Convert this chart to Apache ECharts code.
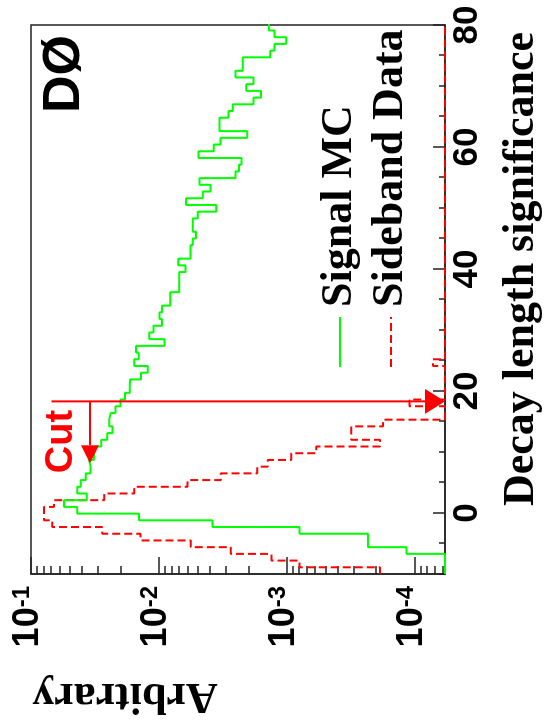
<!DOCTYPE html>
<html>
<head>
<meta charset="utf-8">
<script src="https://cdn.jsdelivr.net/npm/echarts@6/dist/echarts.min.js"></script>
<style>
  html, body { margin: 0; padding: 0; background: #fff; overflow: hidden; }
  #page { position: absolute; left: 0; top: 0; width: 547px; height: 723px; overflow: hidden; background: #fff; }
  /* the plot is laid out landscape and turned a quarter turn counter-clockwise */
  #chart { position: absolute; left: 0; top: 0; width: 723px; height: 547px;
           transform-origin: 0 0; transform: translate(0px, 723px) rotate(-90deg); }
</style>
</head>
<body>
<div id="page"><div id="chart"></div></div>
<script>
// Histogram binning (decay length significance)
const binLow = -10;
const binWidth = 1.1;

// Signal MC, normalised bin contents (0 = empty bin)
const signalMC = [
  0, 0, 0, 1.16e-4, 2.32e-4, 2.32e-4, 7.96e-4, 3.81e-3, 0.0143, 0.0435,
  0.0552, 0.0367, 0.0434, 0.0409, 0.0374, 0.0342, 0.0352, 0.0321, 0.0312, 0.0282,
  0.0253, 0.0231, 0.0245, 0.0238, 0.0218, 0.0200, 0.0184, 0.0169, 0.0168, 0.0138,
  0.0122, 0.0156, 0.0144, 0.0151, 0.00906, 0.0119, 0.0110, 0.00944, 0.00991, 0.00944,
  0.00817, 0.00817, 0.00692, 0.00692, 0.00692, 0.00621, 0.00705, 0.00567, 0.00567, 0.00544,
  0.00512, 0.00544, 0.00544, 0.00497, 0.00357, 0.00613, 0.00454, 0.00395, 0.00482, 0.00252,
  0.00237, 0.00226, 0.00491, 0.00373, 0.00330, 0.00204, 0.00336, 0.00336, 0.00286, 0.00265,
  0.00182, 0.00159, 0.00208, 0.00182, 0.00252, 0.00221, 0.00221, 0.00135, 0.00125, 0.00101,
  0.00125, 0.00138
];

// Sideband data, normalised bin contents (0 = empty bin)
const sidebandData = [
  1.87e-4, 7.96e-4, 1.32e-3, 2.74e-3, 5.64e-3, 0.0139, 0.0277, 0.0681, 0.0791, 0.0791,
  0.0661, 0.0268, 0.0156, 5.98e-3, 3.28e-3, 1.70e-3, 1.41e-3, 9.24e-4, 5.89e-4, 1.87e-4,
  3.13e-4, 3.13e-4, 1.77e-4, 0, 0, 1.10e-4, 0, 0, 0, 0,
  0, 7.2e-5, 0, 0, 0, 0, 0, 0, 0, 0,
  0, 0, 0, 0, 0, 0, 0, 0, 0, 0,
  0, 0, 0, 0, 0, 0, 0, 0, 0, 0,
  0, 0, 0, 0, 0, 0, 0, 0, 0, 0,
  0, 0, 0, 0, 0, 0, 0, 0, 0, 0,
  0, 0
];

// Axis ticks
const decayTicks = [0, 20, 40, 60, 80];
const arbitraryTicks = [1e-4, 1e-3, 1e-2, 1e-1];

// Selection cut on the decay length significance
const cutValue = 18.3;
const cutLineTop = 0.069;
const cutPointerY = 0.0346;
const cutPointerEnd = 8.15;

const X_MIN = -10, X_MAX = 80;
const Y_MIN = 5.8e-5, Y_MAX = 0.1;

const SERIF = '"Liberation Serif", "Times New Roman", serif';
const SANS = '"Liberation Sans", Arial, Helvetica, sans-serif';
const FRAME = '#222';

// bin contents -> step outline; empty bins sit on the bottom of the frame
function toSteps(values) {
  const pts = values.map((v, i) => [binLow + i * binWidth, v > 0 ? v : Y_MIN]);
  pts.push([binLow + values.length * binWidth, pts[pts.length - 1][1]]);
  return pts;
}

// log-axis minor ticks at 2..9 x 10^n
const logMinor = [];
for (let e = -5; e <= -2; e++) {
  for (let m = 2; m <= 9; m++) {
    const v = m * Math.pow(10, e);
    if (v >= Y_MIN && v <= Y_MAX) logMinor.push(v);
  }
}

const arrowHeads = [
  { length: 20, width: 25 },
  { length: 18, width: 18 }
];

function renderArrow(params, api) {
  const p0 = api.coord([api.value(0), api.value(1)]);
  const p1 = api.coord([api.value(2), api.value(3)]);
  const head = arrowHeads[params.dataIndex];
  const dx = p1[0] - p0[0], dy = p1[1] - p0[1];
  const len = Math.hypot(dx, dy) || 1;
  const ux = dx / len, uy = dy / len;
  const bx = p1[0] - ux * head.length, by = p1[1] - uy * head.length;
  const nx = -uy * head.width / 2, ny = ux * head.width / 2;
  return {
    type: 'group',
    children: [
      { type: 'line', shape: { x1: p0[0], y1: p0[1], x2: bx, y2: by },
        style: { stroke: '#ff0000', lineWidth: 2 } },
      { type: 'polygon', shape: { points: [[p1[0], p1[1]], [bx + nx, by + ny], [bx - nx, by - ny]] },
        style: { fill: '#ff0000' } }
    ]
  };
}

const chart = echarts.init(document.getElementById('chart'), null, { renderer: 'canvas' });

chart.setOption({
  animation: false,
  backgroundColor: '#fff',
  grid: {
    left: 149, right: 25, top: 31, bottom: 102,
    show: true, borderColor: FRAME, borderWidth: 1.5,
    containLabel: false, outerBoundsMode: 'none'
  },
  legend: {
    orient: 'vertical',
    left: 350, top: 313,
    itemWidth: 50, itemHeight: 14, itemGap: 7,
    selectedMode: false,
    itemStyle: { opacity: 0 },
    textStyle: { fontFamily: SERIF, fontWeight: 'bold', fontSize: 44, color: '#000', padding: [0, 0, 0, 5] },
    data: ['Signal MC', 'Sideband Data']
  },
  xAxis: [
    {
      type: 'value', min: X_MIN, max: X_MAX, position: 'bottom',
      axisLine: { show: true, onZero: false, lineStyle: { color: FRAME, width: 1.5 } },
      axisTick: { show: true, inside: true, length: 12, customValues: decayTicks,
                  lineStyle: { color: FRAME, width: 1.5 } },
      axisLabel: { show: true, customValues: decayTicks, margin: 5, color: '#000',
                   fontFamily: SANS, fontWeight: 'bold', fontSize: 35 },
      splitLine: { show: false },
      name: 'Decay length significance',
      nameLocation: 'middle', nameGap: 55,
      nameTextStyle: { fontFamily: SERIF, fontWeight: 'bold', fontSize: 44, color: '#000',
                       padding: [0, 0, 0, 61] }
    },
    {
      type: 'value', min: X_MIN, max: X_MAX, interval: 5, position: 'bottom',
      axisLine: { show: false, onZero: false },
      axisTick: { show: true, inside: true, length: 6, lineStyle: { color: FRAME, width: 1.5 } },
      axisLabel: { show: false },
      splitLine: { show: false }
    }
  ],
  yAxis: [
    {
      type: 'log', logBase: 10, min: Y_MIN, max: Y_MAX, position: 'left',
      axisLine: { show: true, onZero: false, lineStyle: { color: FRAME, width: 1.5 } },
      axisTick: { show: true, inside: true, length: 17, customValues: arbitraryTicks,
                  lineStyle: { color: FRAME, width: 1.5 } },
      axisLabel: {
        show: true, customValues: arbitraryTicks, margin: 12,
        padding: [0, 0, 5, 0],
        formatter: v => '{b|10}{e|' + Math.round(Math.log10(v)) + '}',
        rich: {
          b: { fontFamily: SANS, fontWeight: 'bold', fontSize: 36, lineHeight: 36, color: '#000',
               padding: [8, 0, 0, 0], verticalAlign: 'bottom' },
          e: { fontFamily: SANS, fontWeight: 'bold', fontSize: 24, lineHeight: 24, color: '#000',
               verticalAlign: 'top' }
        }
      },
      splitLine: { show: false },
      name: 'Arbitrary',
      nameLocation: 'middle', nameRotate: 90, nameGap: 99,
      nameTextStyle: { fontFamily: SERIF, fontWeight: 'bold', fontSize: 44, color: '#000',
                       padding: [0, 0, 0, 226] }
    },
    {
      type: 'log', logBase: 10, min: Y_MIN, max: Y_MAX, position: 'left',
      axisLine: { show: false, onZero: false },
      axisTick: { show: true, inside: true, length: 8, customValues: logMinor,
                  lineStyle: { color: FRAME, width: 1.5 } },
      axisLabel: { show: false },
      splitLine: { show: false }
    }
  ],
  series: [
    {
      name: 'Sideband Data', type: 'line', step: 'end',
      xAxisIndex: 0, yAxisIndex: 0,
      data: toSteps(sidebandData),
      symbol: 'none', clip: true, z: 2,
      lineStyle: { color: '#ff0000', width: 2, type: [8, 4] },
      itemStyle: { color: '#ff0000' }
    },
    {
      name: 'Signal MC', type: 'line', step: 'end',
      xAxisIndex: 0, yAxisIndex: 0,
      data: toSteps(signalMC),
      symbol: 'none', clip: true, z: 3,
      lineStyle: { color: '#00ff00', width: 2 },
      itemStyle: { color: '#00ff00' }
    },
    {
      type: 'custom', xAxisIndex: 0, yAxisIndex: 0, silent: true, z: 4,
      renderItem: renderArrow,
      encode: { x: [0, 2], y: [1, 3] },
      data: [
        [cutValue, cutLineTop, cutValue, Y_MIN],
        [cutValue, cutPointerY, cutPointerEnd, cutPointerY]
      ]
    }
  ],
  graphic: [
    {
      type: 'text', silent: true, z: 10,
      style: { text: 'DØ', x: 649, y: 65, fill: '#000',
               font: 'bold 52px ' + SANS, align: 'center', verticalAlign: 'middle',
               textAlign: 'center', textVerticalAlign: 'middle' }
    },
    {
      type: 'text', silent: true, z: 10,
      style: { text: 'Cut', x: 281.5, y: 62, fill: '#ff0000',
               font: 'bold 38px ' + SANS, align: 'center', verticalAlign: 'middle',
               textAlign: 'center', textVerticalAlign: 'middle' }
    }
  ]
});
</script>
</body>
</html>
